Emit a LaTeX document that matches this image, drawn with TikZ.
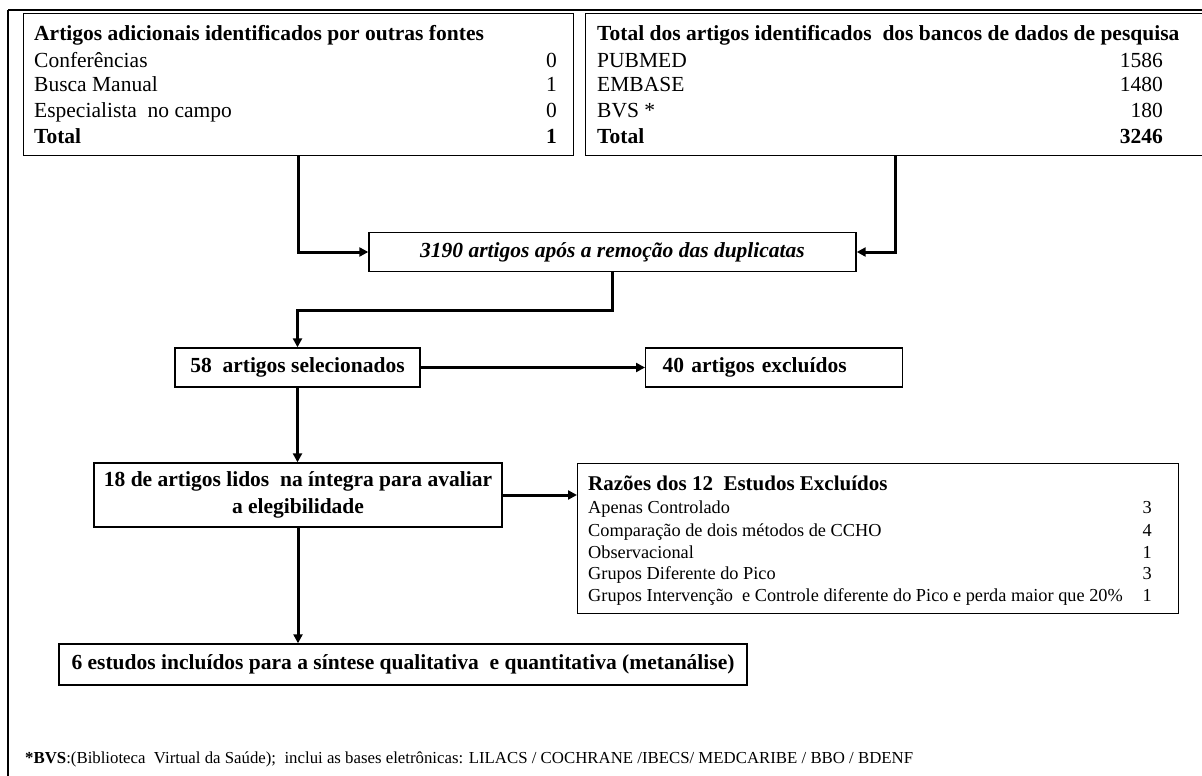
\documentclass[tikz,border=0pt]{standalone}
\usepackage{fontspec}
\setmainfont{Liberation Serif}
\usetikzlibrary{arrows.meta}
\begin{document}
\begin{tikzpicture}[x=1pt,y=-1pt,
  box/.style={draw, line width=1.4pt, inner sep=0pt},
  conn/.style={line width=3pt},
  arr/.style={conn, -{Triangle[length=9pt,width=9pt]}},
  big/.style={font=\fontsize{21.5}{26}\selectfont},
  bigb/.style={font=\fontsize{21.5}{27}\selectfont\bfseries},
  lbl/.style={anchor=base west, inner sep=0pt},
  num/.style={anchor=base east, inner sep=0pt},
  sml/.style={font=\fontsize{18.3}{22}\selectfont}
]
\useasboundingbox (0,0) rectangle (1202,776);
% outer frame
\draw[line width=1.2pt] (8,776) -- (8,10);
\draw[line width=2pt] (8,10) -- (1202,10);

% box A
\node[box, anchor=north west, minimum width=550pt, minimum height=142pt] (A) at (23,13) {};
\node[lbl, bigb] (a0) at (34,41) {Artigos adicionais identificados por outras fontes};
\node[lbl, big] (a1) at (34,67) {Conferências};
\node[num, big] (a1n) at (557,67) {0};
\node[lbl, big] (a2) at (34,92) {Busca Manual};
\node[num, big] (a2n) at (557,92) {1};
\node[lbl, big] (a3) at (34,117) {Especialista\ \ no campo};
\node[num, big] (a3n) at (557,117) {0};
\node[lbl, bigb] (a4) at (34,143) {Total};
\node[num, bigb] (a4n) at (557,143) {1};

% box B
\node[box, anchor=north west, minimum width=619pt, minimum height=142pt] (B) at (585,13) {};
\node[lbl, bigb] (b0) at (597,41) {Total dos artigos identificados\ \ dos bancos de dados de pesquisa};
\node[lbl, big] (b1) at (597,67) {PUBMED};
\node[num, big] (b1n) at (1163,67) {1586};
\node[lbl, big] (b2) at (597,92) {EMBASE};
\node[num, big] (b2n) at (1163,92) {1480};
\node[lbl, big] (b3) at (597,117) {BVS *};
\node[num, big] (b3n) at (1163,117) {180};
\node[lbl, bigb] (b4) at (597,143) {Total};
\node[num, bigb] (b4n) at (1163,143) {3246};

% box C
\node[box, bigb, minimum width=487pt, minimum height=39pt] (C) at (612.5,252) {\itshape 3190 artigos após a remoção das duplicatas};

% 58 and 40
\node[box, bigb, minimum width=245pt, minimum height=39pt] (S) at (297.5,367.5) {58\ \ artigos selecionados};
\node[box, bigb, anchor=west, minimum height=39pt, text width=223pt, align=left, inner xsep=17pt] (X) at (645,367.5) {40 artigos excluídos};

% 18 box
\node[box, bigb, minimum width=408pt, minimum height=64pt, align=center] (E) at (298,495) {18 de artigos lidos\ \ na íntegra para avaliar\\ a elegibilidade};

% Razoes
\node[box, anchor=north west, minimum width=601pt, minimum height=150pt] (R) at (577,463) {};
\node[lbl, font=\fontsize{21}{26}\selectfont\bfseries] (r0) at (588,490) {Razões dos 12\ \ Estudos Excluídos};
\node[lbl, sml] (r1) at (588,513) {Apenas Controlado};
\node[num, sml] (r1n) at (1152,513) {3};
\node[lbl, sml] (r2) at (588,536) {Comparação de dois métodos\ de CCHO};
\node[num, sml] (r2n) at (1152,536) {4};
\node[lbl, sml] (r3) at (588,558) {Observacional};
\node[num, sml] (r3n) at (1152,558) {1};
\node[lbl, sml] (r4) at (588,579) {Grupos Diferente\ do Pico};
\node[num, sml] (r4n) at (1152,579) {3};
\node[lbl, sml] (r5) at (588,601) {Grupos Intervenção\ \ e Controle diferente do Pico e perda maior que 20\%};
\node[num, sml] (r5n) at (1152,601) {1};

% 6 estudos
\node[box, bigb, minimum width=688pt, minimum height=41pt] (F) at (403,664.5) {6 estudos incluídos\ para a síntese qualitativa\ \ e quantitativa (metanálise)};

% footnote
\node[lbl, font=\fontsize{16.8}{20}\selectfont] (fn) at (25,763) {\textbf{*BVS}:(Biblioteca\ \ Virtual da Saúde);\ \ inclui as bases eletrônicas: LILACS / COCHRANE /IBECS/ MEDCARIBE / BBO / BDENF};

% connectors
\draw[arr] (A.south) |- (C.west);
\draw[arr] (B.south) |- (C.east);
\coordinate (cm) at (612.5,310);
\draw[arr] (C.south) -- (cm) -| (S.north);
\draw[arr] (S.east) -- (X.west);
\draw[arr] (S.south) -- (S.south |- E.north);
\draw[arr] (E.east) -- (R.west |- E.east);
\draw[arr] (E.south) -- (E.south |- F.north);
\end{tikzpicture}
\end{document}
